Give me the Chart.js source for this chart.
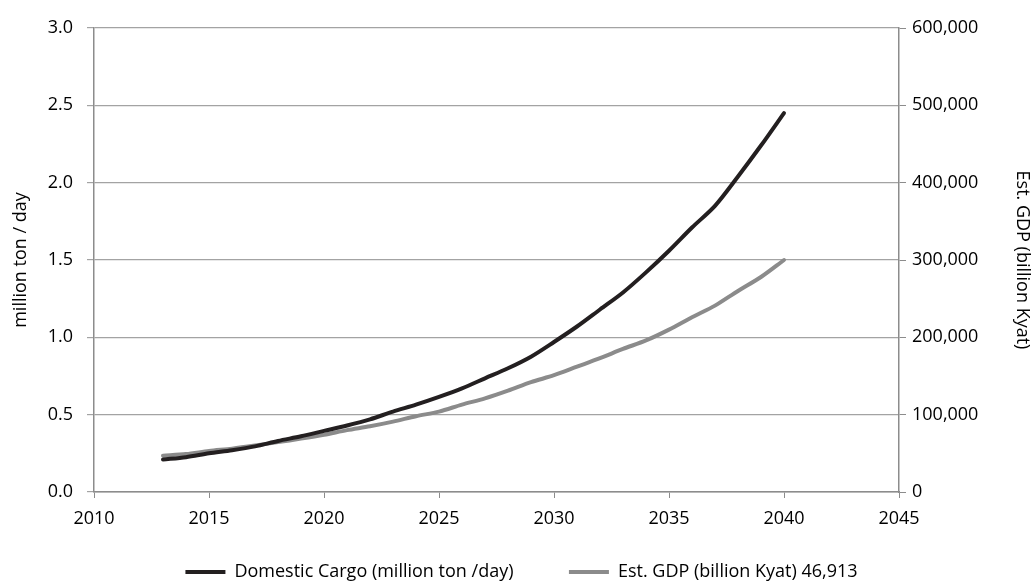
<!DOCTYPE html>
<html>
<head>
<meta charset="utf-8">
<script src="https://cdn.jsdelivr.net/npm/chart.js@4/dist/chart.umd.min.js"></script>
<style>
    html, body { margin: 0; padding: 0; background: #fff; }
    #wrap { width: 1035px; height: 583px; }
</style>
</head>
<body>
<div id="wrap"><canvas id="myChart"></canvas></div>
<script>
// years on the x axis
const years = [2013, 2014, 2015, 2016, 2017, 2018, 2019, 2020, 2021, 2022, 2023, 2024, 2025, 2026,
    2027, 2028, 2029, 2030, 2031, 2032, 2033, 2034, 2035, 2036, 2037, 2038, 2039, 2040];
// domestic cargo, million ton / day (left axis)
const cargo = [0.21, 0.225, 0.25, 0.27, 0.295, 0.33, 0.36, 0.395, 0.43, 0.47, 0.52, 0.565, 0.615, 0.67,
    0.735, 0.80, 0.875, 0.97, 1.07, 1.18, 1.29, 1.42, 1.56, 1.71, 1.85, 2.04, 2.24, 2.45];
// estimated GDP, billion Kyat (right axis)
const gdp = [46913, 49000, 53000, 56000, 60000, 64500, 69000, 74000, 80000, 85000, 91000, 98000, 104000, 113000,
    121000, 131000, 142000, 151000, 162000, 173000, 185000, 196000, 210000, 226000, 241000, 260000, 278000, 300000];
const xTicks = [2010, 2015, 2020, 2025, 2030, 2035, 2040, 2045];
const seriesNames = ['Domestic Cargo (million ton /day)', 'Est. GDP (billion Kyat) 46,913'];

const font = { family: "'Open Sans', 'Noto Sans', sans-serif", size: 18 };
const axisGrey = '#8c8c8c';

const toPoints = (xs, ys) => xs.map((x, i) => ({ x: x, y: ys[i] }));

// legend items: default ones, with a wider gap after the first entry
const legendLabels = (chart) => {
    var items = Chart.defaults.plugins.legend.labels.generateLabels(chart);
    items[0].text = items[0].text + '           ';
    return items;
}

const chartJs = () => {
    Chart.defaults.font = font;
    Chart.defaults.color = '#000';
    new Chart('myChart', {
        type: 'line',
        data: {
            datasets: [{
                label: seriesNames[0],
                data: toPoints(years, cargo),
                borderColor: '#231f20',
                backgroundColor: '#231f20',
                borderWidth: 4,
                borderCapStyle: 'round',
                pointRadius: 0,
                tension: 0.3,
                yAxisID: 'y'
            }, {
                label: seriesNames[1],
                data: toPoints(years, gdp),
                borderColor: '#8b8b8b',
                backgroundColor: '#8b8b8b',
                borderWidth: 4,
                borderCapStyle: 'round',
                pointRadius: 0,
                tension: 0.3,
                yAxisID: 'y1'
            }]
        },
        options: {
            responsive: true,
            maintainAspectRatio: false,
            animation: false,
            layout: { padding: { left: 8, right: 0, top: 28, bottom: -8 } },
            plugins: {
                tooltip: { enabled: false },
                legend: {
                    position: 'bottom',
                    labels: {
                        usePointStyle: true,
                        pointStyle: 'line',
                        pointStyleWidth: 40,
                        boxHeight: 10,
                        padding: 4,
                        font: font,
                        generateLabels: legendLabels
                    }
                }
            },
            scales: {
                x: {
                    type: 'linear',
                    min: xTicks[0],
                    max: xTicks[xTicks.length - 1],
                    afterBuildTicks: (axis) => { axis.ticks = xTicks.map(v => ({ value: v })); },
                    ticks: { callback: (v) => String(v), maxRotation: 0, padding: 10 },
                    grid: { drawOnChartArea: false, drawTicks: true, tickLength: 6, color: axisGrey },
                    border: { color: axisGrey, width: 1.5 },
                    afterFit: (scale) => { scale.height = 67; }
                },
                y: {
                    position: 'left',
                    min: 0,
                    max: 3,
                    ticks: { stepSize: 0.5, callback: (v) => v.toFixed(1), padding: 14 },
                    grid: { color: '#a3a3a3', lineWidth: 1.2, tickLength: 7 },
                    border: { color: axisGrey, width: 1.5 },
                    title: { display: true, text: 'million ton / day', font: font, padding: 2 },
                    afterFit: (scale) => { scale.width = 86; }
                },
                y1: {
                    position: 'right',
                    min: 0,
                    max: 600000,
                    ticks: { stepSize: 100000, callback: (v) => v.toLocaleString('en-US'), padding: 6 },
                    grid: { drawOnChartArea: false, tickLength: 7, color: axisGrey },
                    border: { color: axisGrey, width: 1.5 },
                    title: { display: true, text: 'Est. GDP (billion Kyat)', font: font, padding: 2 },
                    afterFit: (scale) => { scale.width = 136; }
                }
            }
        }
    });
}

chartJs();
</script>
</body>
</html>
